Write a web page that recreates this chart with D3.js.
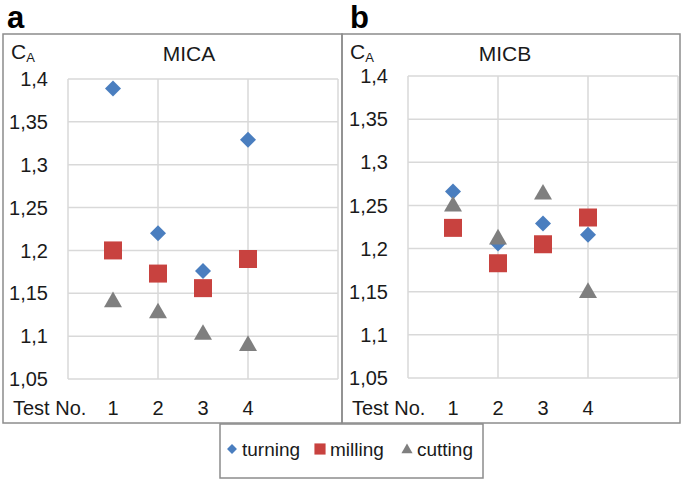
<!DOCTYPE html>
<html><head><meta charset="utf-8">
<script src="https://cdn.jsdelivr.net/npm/d3@7"></script>
<style>
html,body{margin:0;padding:0;background:#fff;}
svg{display:block;font-family:"Liberation Sans",Arial,sans-serif;}
</style></head>
<body>
<svg id="chart" width="685" height="482"></svg>
<script>
// ---- data ----
const tests = [1, 2, 3, 4];
const yTicks = [1.05, 1.1, 1.15, 1.2, 1.25, 1.3, 1.35, 1.4];
const xGrid = [0, 2, 4, 6];
const seriesNames = ["turning", "milling", "cutting"];
const panelLetters = ["a", "b"];
const panelTitles = ["MICA", "MICB"];
const micaTurning = [1.389, 1.220, 1.176, 1.329];
const micaMilling = [1.200, 1.173, 1.156, 1.190];
const micaCutting = [1.141, 1.128, 1.103, 1.090];
const micbTurning = [1.266, 1.206, 1.229, 1.216];
const micbMilling = [1.224, 1.183, 1.205, 1.236];
const micbCutting = [1.250, 1.212, 1.264, 1.150];

const colors = {turning: "#4a7ebf", milling: "#c8423f", cutting: "#7f7f7f"};
const fmt = v => String(+v.toFixed(2)).replace(".", ",");

const svg = d3.select("#chart");

const panels = [
  {frame: [3, 34, 342, 423], plot: [68, 79, 338, 379], titleX: 189, data: [micaTurning, micaMilling, micaCutting]},
  {frame: [342, 34, 680, 423], plot: [408, 76, 678, 378], titleX: 505, data: [micbTurning, micbMilling, micbCutting]}
];

function markerPath(name, scale) {
  const s = scale || 1;
  if (name === "turning") return d3.symbol(d3.symbolSquare, 128 * s * s)();
  if (name === "milling") return d3.symbol(d3.symbolSquare, 324 * s * s)();
  return d3.symbol(d3.symbolTriangle, 140 * s * s)();
}
function markerTransform(name, x, y) {
  if (name === "turning") return `translate(${x},${y}) rotate(45)`;
  if (name === "cutting") return `translate(${x},${y + 1})`;
  return `translate(${x},${y})`;
}

panels.forEach((p, i) => {
  const [fx0, fy0, fx1, fy1] = p.frame;
  const [px0, py0, px1, py1] = p.plot;
  const g = svg.append("g");
  const x = d3.scaleLinear().domain([0, 6]).range([px0, px1]);
  const y = d3.scaleLinear().domain([1.05, 1.4]).range([py1, py0]);

  // frame
  g.append("rect").attr("x", fx0).attr("y", fy0).attr("width", fx1 - fx0).attr("height", fy1 - fy0)
    .attr("fill", "none").attr("stroke", "#8c8c8c").attr("stroke-width", 1.5);

  // grid
  g.selectAll(".hg").data(yTicks).enter().append("line")
    .attr("x1", px0).attr("x2", px1).attr("y1", d => y(d)).attr("y2", d => y(d))
    .attr("stroke", "#d9d9d9").attr("stroke-width", 1.5);
  g.selectAll(".vg").data(xGrid).enter().append("line")
    .attr("x1", d => x(d)).attr("x2", d => x(d)).attr("y1", py0).attr("y2", py1)
    .attr("stroke", "#d9d9d9").attr("stroke-width", 1.5);

  // y tick labels
  g.selectAll(".yt").data(yTicks).enter().append("text")
    .attr("x", px0 - 20).attr("y", d => y(d)).attr("dy", "0.36em")
    .attr("text-anchor", "end").attr("font-size", 20).attr("fill", "#1a1a1a")
    .text(fmt);

  // x labels
  g.append("text").attr("x", fx0 + 10).attr("y", 415).attr("font-size", 20).attr("fill", "#1a1a1a").text("Test No.");
  g.selectAll(".xt").data(tests).enter().append("text")
    .attr("x", d => x(d)).attr("y", 415).attr("text-anchor", "middle")
    .attr("font-size", 20).attr("fill", "#1a1a1a").text(d => d);

  // C_A label
  const ca = g.append("text").attr("x", fx0 + 8).attr("y", 59).attr("font-size", 21).attr("fill", "#1a1a1a");
  ca.append("tspan").text("C");
  ca.append("tspan").attr("font-size", 13).attr("dy", 3).text("A");

  // title
  g.append("text").attr("x", p.titleX).attr("y", 61).attr("text-anchor", "middle")
    .attr("font-size", 21).attr("fill", "#1a1a1a").text(panelTitles[i]);

  // panel letter
  svg.append("text").attr("x", fx0 + 4 + (i ? 4 : 0)).attr("y", 28).attr("font-size", 31)
    .attr("font-weight", "bold").attr("fill", "#000").text(panelLetters[i]);

  // markers
  seriesNames.forEach((name, si) => {
    g.selectAll(".m" + si).data(p.data[si]).enter().append("path")
      .attr("d", markerPath(name))
      .attr("transform", (d, k) => markerTransform(name, x(tests[k]), y(d)))
      .attr("fill", colors[name]);
  });
});

// legend
const lg = svg.append("g");
lg.append("rect").attr("x", 220).attr("y", 424).attr("width", 263).attr("height", 54)
  .attr("fill", "#fff").attr("stroke", "#8c8c8c").attr("stroke-width", 1.5);
const legX = [232, 320, 407];
seriesNames.forEach((name, i) => {
  lg.append("path").attr("d", markerPath(name, 0.62))
    .attr("transform", markerTransform(name, legX[i], 449))
    .attr("fill", colors[name]);
  lg.append("text").attr("x", legX[i] + 10).attr("y", 449).attr("dy", "0.36em")
    .attr("font-size", 19).attr("fill", "#1a1a1a").text(name);
});
</script>
</body></html>
